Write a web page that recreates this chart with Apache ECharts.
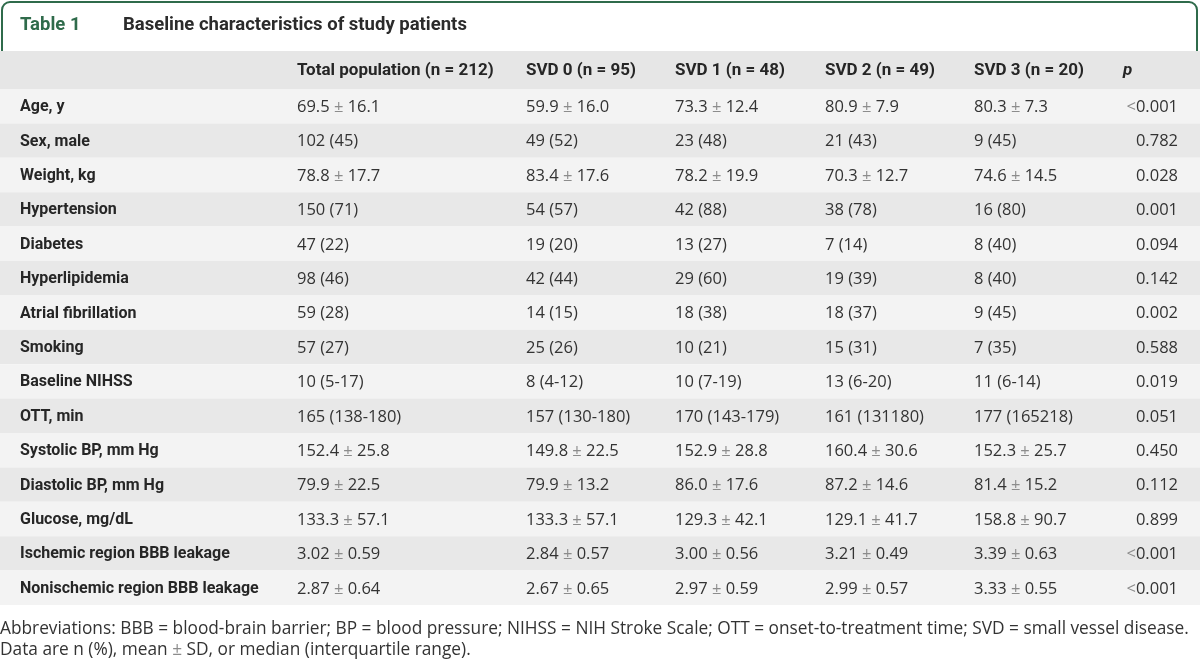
<!DOCTYPE html>
<html>
<head>
<meta charset="utf-8">
<script src="https://cdn.jsdelivr.net/npm/echarts@6/dist/echarts.min.js"></script>
<style>
html,body{margin:0;padding:0;background:#fff;}
#chart{width:1200px;height:663px;}
</style>
</head>
<body>
<div id="chart"></div>
<script>
// ---- data ----
var tableNumber = 'Table 1';
var tableTitle = 'Baseline characteristics of study patients';
var headers = ['', 'Total population (n = 212)', 'SVD 0 (n = 95)', 'SVD 1 (n = 48)', 'SVD 2 (n = 49)', 'SVD 3 (n = 20)', 'p'];
var labels = ['Age, y','Sex, male','Weight, kg','Hypertension','Diabetes','Hyperlipidemia','Atrial fibrillation','Smoking','Baseline NIHSS','OTT, min','Systolic BP, mm Hg','Diastolic BP, mm Hg','Glucose, mg/dL','Ischemic region BBB leakage','Nonischemic region BBB leakage'];
var total = ['69.5 ± 16.1','102 (45)','78.8 ± 17.7','150 (71)','47 (22)','98 (46)','59 (28)','57 (27)','10 (5-17)','165 (138-180)','152.4 ± 25.8','79.9 ± 22.5','133.3 ± 57.1','3.02 ± 0.59','2.87 ± 0.64'];
var svd0 = ['59.9 ± 16.0','49 (52)','83.4 ± 17.6','54 (57)','19 (20)','42 (44)','14 (15)','25 (26)','8 (4-12)','157 (130-180)','149.8 ± 22.5','79.9 ± 13.2','133.3 ± 57.1','2.84 ± 0.57','2.67 ± 0.65'];
var svd1 = ['73.3 ± 12.4','23 (48)','78.2 ± 19.9','42 (88)','13 (27)','29 (60)','18 (38)','10 (21)','10 (7-19)','170 (143-179)','152.9 ± 28.8','86.0 ± 17.6','129.3 ± 42.1','3.00 ± 0.56','2.97 ± 0.59'];
var svd2 = ['80.9 ± 7.9','21 (43)','70.3 ± 12.7','38 (78)','7 (14)','19 (39)','18 (37)','15 (31)','13 (6-20)','161 (131180)','160.4 ± 30.6','87.2 ± 14.6','129.1 ± 41.7','3.21 ± 0.49','2.99 ± 0.57'];
var svd3 = ['80.3 ± 7.3','9 (45)','74.6 ± 14.5','16 (80)','8 (40)','8 (40)','9 (45)','7 (35)','11 (6-14)','177 (165218)','152.3 ± 25.7','81.4 ± 15.2','158.8 ± 90.7','3.39 ± 0.63','3.33 ± 0.55'];
var pValues = ['<0.001','0.782','0.028','0.001','0.094','0.142','0.002','0.588','0.019','0.051','0.450','0.112','0.899','<0.001','<0.001'];
var footnotes = [
  'Abbreviations: BBB = blood-brain barrier; BP = blood pressure; NIHSS = NIH Stroke Scale; OTT = onset-to-treatment time; SVD = small vessel disease.',
  'Data are n (%), mean ± SD, or median (interquartile range).'
];

// ---- layout (not data) ----
var BOLD = 'Roboto, "Liberation Sans", sans-serif';
var REG = '"Open Sans", "Liberation Sans", sans-serif';
var colX = [20, 297, 526, 675, 825, 974];
var pRight = 1178;
var pHeaderX = 1123;
var gridTop = 89, gridBottom = 58, headerTop = 51;
var fg = '#262626', reg = '#333333', soft = '#8c8c8c', green = '#2f6b4b';
var dataFont = '16.5px ' + REG, noteFont = '17.3px ' + REG;

var columns = [labels, total, svd0, svd1, svd2, svd3];
function mark(s){ return s.replace(/±/g,'{s|±}').replace(/</g,'{s|<}'); }

var chart = echarts.init(document.getElementById('chart'), null, {renderer:'canvas'});

function txt(x, y, text, font, fill, extra){
  var st = {text:text, font:font, fill:fill, verticalAlign:'middle', textVerticalAlign:'middle'};
  if (extra) for (var k in extra) st[k] = extra[k];
  return {type:'text', x:x, y:y, style:st};
}
var hy = 71;
var lineStyle = {stroke:green, lineWidth:2, fill:null};
var graphics = [
  {type:'rect', shape:{x:0, y:headerTop, width:1200, height:gridTop-headerTop}, style:{fill:'#e6e6e6'}},
  {type:'line', shape:{x1:2, y1:10, x2:2, y2:headerTop}, style:lineStyle},
  {type:'line', shape:{x1:10, y1:2, x2:1189, y2:2}, style:lineStyle},
  {type:'line', shape:{x1:1197, y1:10, x2:1197, y2:headerTop}, style:lineStyle},
  {type:'arc', shape:{cx:10, cy:10, r:8, startAngle:Math.PI, endAngle:Math.PI*1.5, clockwise:true}, style:lineStyle},
  {type:'arc', shape:{cx:1189, cy:10, r:8, startAngle:Math.PI*1.5, endAngle:Math.PI*2, clockwise:true}, style:lineStyle},
  txt(20, 25, tableNumber, 'bold 18.5px '+BOLD, green),
  txt(123, 25, tableTitle, 'bold 18.5px '+BOLD, '#2b2b2b')
];
for (var h = 1; h <= 5; h++) graphics.push(txt(colX[h], hy, headers[h], 'bold 17px '+BOLD, fg));
graphics.push(txt(pHeaderX, hy, headers[6], 'italic bold 17px '+BOLD, fg));
graphics.push(txt(0, 629, footnotes[0], noteFont, reg));
graphics.push(txt(0, 650, mark(footnotes[1]), noteFont, reg, {rich:{s:{fill:soft, font:noteFont}}}));

var option = {
  animation: false,
  backgroundColor: '#ffffff',
  grid: {left: 0, right: 0, top: gridTop, bottom: gridBottom, containLabel: false},
  xAxis: {type: 'value', min: 0, max: 1200, show: false},
  yAxis: {type: 'category', data: labels, inverse: true, show: false},
  graphic: graphics,
  series: [{
    type: 'custom',
    coordinateSystem: 'cartesian2d',
    data: labels.map(function(_, i){ return [0, i]; }),
    encode: {x: 0, y: 1},
    renderItem: function(params, api){
      var i = api.value(1);
      var c = api.coord([0, i]);
      var right = api.coord([1200, i])[0];
      var h = api.size([0, 1])[1];
      var y = c[1] + 1;
      var children = [{
        type:'rect', shape:{x:c[0], y:c[1]-h/2, width:right-c[0], height:h},
        style:{fill: i % 2 === 0 ? '#f3f3f3' : '#e8e8e8'}
      }];
      for (var j = 0; j < columns.length; j++) {
        var x = api.coord([colX[j], i])[0];
        children.push({
          type:'text', x:x, y:y,
          style:{text: mark(columns[j][i]), font:(j===0?'bold 16px '+BOLD:dataFont), fill:(j===0?fg:reg),
                 verticalAlign:'middle', textVerticalAlign:'middle', align:'left', textAlign:'left',
                 rich:{s:{fill:soft, font:dataFont}}}
        });
      }
      children.push({
        type:'text', x:api.coord([pRight, i])[0], y:y,
        style:{text: mark(pValues[i]), font:dataFont, fill:reg,
               verticalAlign:'middle', textVerticalAlign:'middle', align:'right', textAlign:'right',
               rich:{s:{fill:soft, font:dataFont}}}
      });
      return {type:'group', children:children};
    }
  }]
};
chart.setOption(option);
</script>
</body>
</html>
